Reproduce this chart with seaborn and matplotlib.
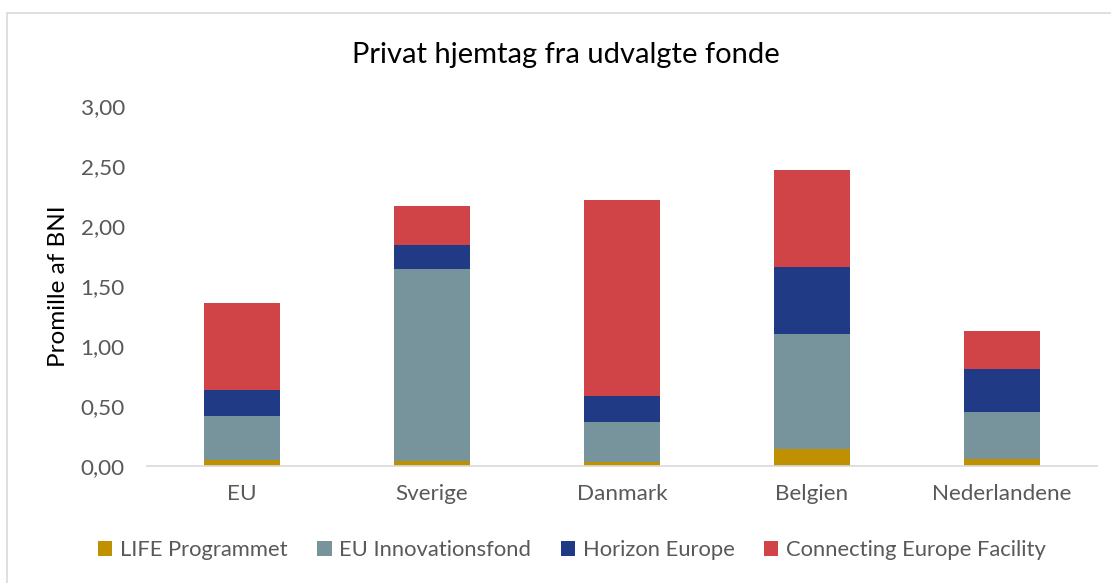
import numpy as np
import pandas as pd
import matplotlib
matplotlib.use("Agg")
import matplotlib.pyplot as plt
import seaborn as sns
from matplotlib.patches import Rectangle, Patch

categories = ["EU", "Sverige", "Danmark", "Belgien", "Nederlandene"]
series = ["LIFE Programmet", "EU Innovationsfond", "Horizon Europe", "Connecting Europe Facility"]
life = [0.05, 0.04, 0.03, 0.145, 0.056]
innov = [0.37, 1.60, 0.34, 0.955, 0.39]
horizon = [0.21, 0.20, 0.21, 0.555, 0.36]
cef = [0.73, 0.33, 1.64, 0.815, 0.32]
yticks = [0.0, 0.5, 1.0, 1.5, 2.0, 2.5, 3.0]
colors = ["#BF9000", "#77939B", "#203A86", "#D04347"]

sns.set_theme(style="white")
plt.rcParams["font.family"] = ["Lato", "DejaVu Sans"]

fig = plt.figure(figsize=(11.11, 5.83), dpi=100)
ax = fig.add_axes([147/1111, 117/583, 950/1111, 360/583])

layers = [life, innov, horizon, cef]
cum = np.cumsum(np.array(layers), axis=0)
# draw from top of stack down so lower layers overlay
for i in range(len(layers) - 1, -1, -1):
    df = pd.DataFrame({"cat": categories, "val": cum[i]})
    sns.barplot(data=df, x="cat", y="val", color=colors[i], width=0.4,
                saturation=1, ax=ax, edgecolor="none", linewidth=0)

ax.set_xlim(-0.5, 4.5)
ax.set_ylim(0, 3.0)
ax.set_yticks(yticks)
ax.set_yticklabels([f"{v:.2f}".replace(".", ",") for v in yticks])
ax.tick_params(axis="both", length=0, labelsize=16.2, labelcolor="#595959")
ax.tick_params(axis="x", pad=13)
ax.tick_params(axis="y", pad=16)
ax.set_xlabel("")
ax.set_ylabel("Promille af BNI", fontsize=17.5, color="black", labelpad=8)
for s in ["top", "right", "left"]:
    ax.spines[s].set_visible(False)
ax.spines["bottom"].set_color("#D9D9D9")
ax.spines["bottom"].set_linewidth(1.2)

fig.text(566/1111, 1 - 55/583, "Privat hjemtag fra udvalgte fonde", ha="center", va="center",
         fontsize=21, color="black")

handles = [Patch(facecolor=c, edgecolor="none") for c in colors]
leg = fig.legend(handles, series, loc="center", bbox_to_anchor=(572/1111, 1 - 550/583), ncol=4,
                 frameon=False, fontsize=15.8, handlelength=0.65, handleheight=0.65,
                 handletextpad=0.35, columnspacing=1.35)
for t in leg.get_texts():
    t.set_color("#595959")

fig.patches.append(Rectangle((7/1111, -0.01), 1.1, 1 - 13/583 + 0.01, transform=fig.transFigure,
                             fill=False, edgecolor="#D9D9D9", linewidth=1.2))

fig.savefig("out.png", dpi=100)
